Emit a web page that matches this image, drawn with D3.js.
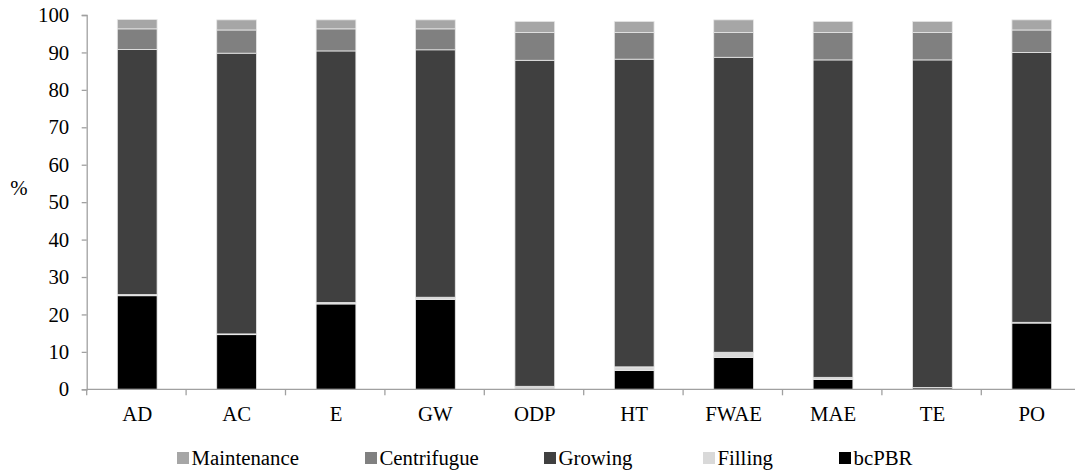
<!DOCTYPE html>
<html>
<head>
<meta charset="utf-8">
<script src="https://cdn.jsdelivr.net/npm/d3@7"></script>
<style>
  html, body { margin: 0; padding: 0; background: #fff; }
  svg { display: block; }
</style>
</head>
<body>
<svg id="chart" width="1075" height="474"></svg>
<script>
const categories = ["AD", "AC", "E", "GW", "ODP", "HT", "FWAE", "MAE", "TE", "PO"];
const seriesNames = ["bcPBR", "Filling", "Growing", "Centrifugue", "Maintenance"];
const bcPBR       = [25.0, 14.6, 22.8, 24.0, 0.0, 5.0, 8.5, 2.6, 0.4, 17.7];
const filling     = [0.3, 0.2, 0.4, 0.6, 0.8, 1.0, 1.4, 0.6, 0.1, 0.2];
const growing     = [65.5, 75.0, 67.2, 66.1, 87.1, 82.2, 78.8, 84.8, 87.5, 72.1];
const centrifugue = [5.5, 6.2, 5.9, 5.6, 7.4, 7.1, 6.6, 7.3, 7.3, 6.0];
const maintenance = [2.5, 2.7, 2.4, 2.4, 3.0, 3.0, 3.4, 3.0, 3.0, 2.7];
const yTicks = [0, 10, 20, 30, 40, 50, 60, 70, 80, 90, 100];
const legendOrder = ["Maintenance", "Centrifugue", "Growing", "Filling", "bcPBR"];

const colors = {
  bcPBR: "#000000",
  Filling: "#d9d9d9",
  Growing: "#404040",
  Centrifugue: "#808080",
  Maintenance: "#a6a6a6"
};

const valuesBySeries = {
  bcPBR: bcPBR, Filling: filling, Growing: growing,
  Centrifugue: centrifugue, Maintenance: maintenance
};

const table = categories.map((c, i) => {
  const row = { cat: c };
  seriesNames.forEach(s => row[s] = valuesBySeries[s][i]);
  return row;
});

const FONT = "'Liberation Serif', 'Times New Roman', Times, serif";
const FS = "20.8px";
const svg = d3.select("#chart");
const plotLeft = 86.7, plotRight = 1080.7, plotTop = 15, plotBottom = 389.3;

const x = d3.scaleBand().domain(categories).range([plotLeft, plotRight])
  .paddingInner(0.6).paddingOuter(0.3);
const y = d3.scaleLinear().domain([0, 100]).range([plotBottom, plotTop]);

const stacked = d3.stack().keys(seriesNames)(table);

const axisColor = "#a0a0a0";

// bars
svg.append("g").selectAll("g")
  .data(stacked)
  .join("g")
  .attr("fill", d => colors[d.key])
  .selectAll("rect")
  .data(d => d)
  .join("rect")
  .attr("x", d => x(d.data.cat) + 0.8)
  .attr("width", x.bandwidth())
  .attr("y", d => y(d[1]))
  .attr("height", d => Math.max(0, y(d[0]) - y(d[1])))
  .attr("stroke", "#e8e8e8")
  .attr("stroke-width", 0.8);

// y axis
const yAxis = svg.append("g")
  .attr("transform", `translate(${plotLeft},0)`)
  .call(d3.axisLeft(y).tickValues(yTicks).tickSize(5).tickPadding(12.5).tickFormat(d3.format("d")));
yAxis.select(".domain").attr("stroke", axisColor).attr("stroke-width", 1.3);
yAxis.selectAll(".tick line").attr("stroke", axisColor).attr("stroke-width", 1.3);
yAxis.selectAll(".tick text").style("font-size", FS)
  .style("font-family", FONT).attr("fill", "#000");

// x axis: baseline and ticks between categories
const step = x.step();
const boundaries = d3.range(categories.length + 1).map(i => plotLeft + i * step);
svg.append("line")
  .attr("x1", plotLeft).attr("x2", plotRight)
  .attr("y1", plotBottom).attr("y2", plotBottom)
  .attr("stroke", axisColor).attr("stroke-width", 1.3);
svg.append("g").selectAll("line")
  .data(boundaries)
  .join("line")
  .attr("x1", d => d).attr("x2", d => d)
  .attr("y1", plotBottom).attr("y2", plotBottom + 6)
  .attr("stroke", axisColor).attr("stroke-width", 1.3);

svg.append("g").selectAll("text")
  .data(categories)
  .join("text")
  .attr("x", d => x(d) + x.bandwidth() / 2 + 0.8)
  .attr("y", 421)
  .attr("text-anchor", "middle")
  .attr("fill", "#000")
  .style("font-size", FS)
  .style("font-family", FONT)
  .text(d => d);

// y label
svg.append("text")
  .attr("x", 19).attr("y", 195)
  .attr("text-anchor", "middle")
  .attr("fill", "#000")
  .style("font-size", FS)
  .style("font-family", FONT)
  .text("%");

// legend
const legendX = [177, 365, 544, 703, 839];
const lg = svg.append("g").selectAll("g")
  .data(legendOrder)
  .join("g")
  .attr("transform", (d, i) => `translate(${legendX[i]},0)`);
lg.append("rect")
  .attr("x", 0).attr("y", 452)
  .attr("width", 12).attr("height", 12)
  .attr("fill", d => colors[d]);
lg.append("text")
  .attr("x", 14.5).attr("y", 465)
  .attr("fill", "#000")
  .style("font-size", FS)
  .style("font-family", FONT)
  .text(d => d);
</script>
</body>
</html>
